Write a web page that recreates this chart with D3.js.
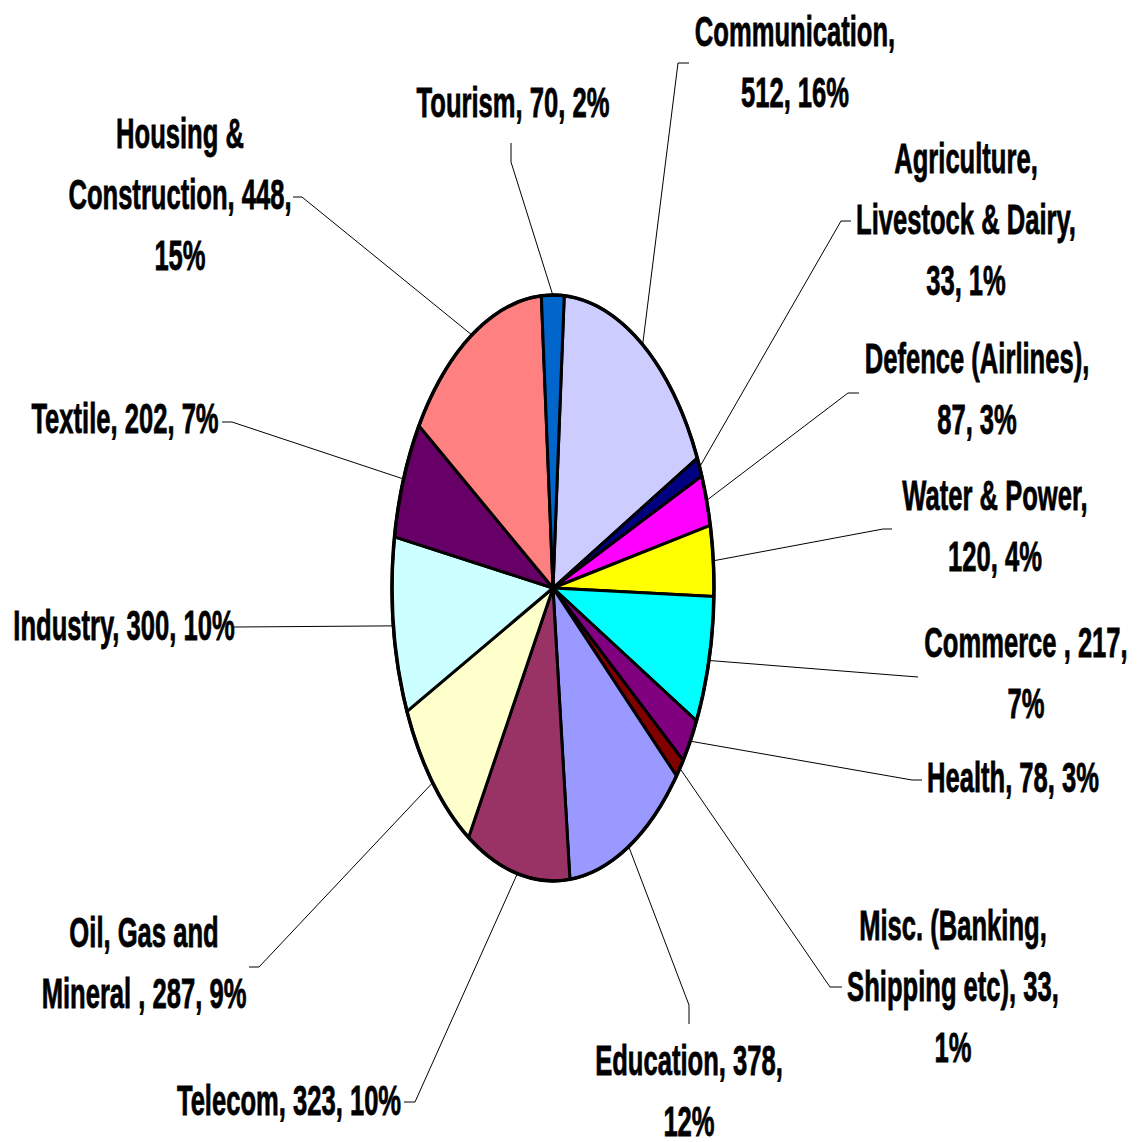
<!DOCTYPE html>
<html>
<head>
<meta charset="utf-8">
<script src="https://cdn.jsdelivr.net/npm/d3@7"></script>
<style>
  body { margin: 0; background: #fff; }
  text { font-family: "Liberation Sans", Arial, sans-serif; font-weight: bold; }
</style>
</head>
<body>
<div id="chart"></div>
<script>
// sectors, clockwise from the top
const categories = [
  "Communication", "Agriculture, Livestock & Dairy", "Defence (Airlines)",
  "Water & Power", "Commerce ", "Health", "Misc. (Banking, Shipping etc)",
  "Education", "Telecom", "Oil, Gas and Mineral ", "Industry", "Textile",
  "Housing & Construction", "Tourism"
];
const values = [512, 33, 87, 120, 217, 78, 33, 378, 323, 287, 300, 202, 448, 70];
// percentages as printed on the chart
const percents = [16, 1, 3, 4, 7, 3, 1, 12, 10, 9, 10, 7, 15, 2];
const colors = [
  "#CCCCFF", "#000080", "#FF00FF", "#FFFF00", "#00FFFF", "#800080", "#800000",
  "#9999FF", "#993366", "#FFFFCC", "#CCFFFF", "#660066", "#FF8080", "#0066CC"
];
// words per line when a label wraps
const wraps = [[1, 2], [1, 3, 2], [2, 2], [3, 2], [3, 1], [4], [2, 3, 1],
  [2, 1], [3], [3, 4], [3], [3], [2, 2, 1], [3]];

// label layout: text centre, first baseline, leader bend and leader end
const labelPos = [
  { x: 795, y: 46, bend: [678, 63], end: [689, 63] },
  { x: 966, y: 173, bend: [841, 221], end: [851, 221] },
  { x: 977, y: 373, bend: [848, 393], end: [859, 393] },
  { x: 995, y: 510, bend: [883, 529], end: [892, 529] },
  { x: 1026, y: 657, bend: [905, 676], end: [918, 677] },
  { x: 1013, y: 792, bend: [912, 780], end: [922, 780] },
  { x: 953, y: 940, bend: [830, 987], end: [842, 987] },
  { x: 689, y: 1075, bend: [689, 1005], end: [689, 1024] },
  { x: 289, y: 1115, bend: [415, 1102], end: [404, 1102] },
  { x: 144, y: 947, bend: [259, 967], end: [249, 967] },
  { x: 124, y: 640, bend: [236, 627], end: [234, 627] },
  { x: 125, y: 433, bend: [232, 422], end: [222, 422] },
  { x: 180, y: 148, bend: [302, 197], end: [293, 197] },
  { x: 513, y: 117, bend: [511, 162], end: [511, 143] }
];

const width = 1144, height = 1142;
const cx = 553, cy = 588, rx = 161, ry = 293;
const rot = 4 * Math.PI / 180;
const fontSize = 43, lineGap = 61, squeeze = 0.595;

const svg = d3.select("#chart").append("svg")
  .attr("width", width)
  .attr("height", height);

const pie = d3.pie().sort(null).value(d => d)
  .startAngle(rot).endAngle(rot + 2 * Math.PI);
const arcs = pie(values);

const arc = d3.arc().innerRadius(0).outerRadius(ry);
const edge = d3.arc().innerRadius(ry).outerRadius(ry);

// leader lines
const leaders = svg.append("g");
arcs.forEach((a, i) => {
  const c = edge.centroid(a);
  const p = labelPos[i];
  const start = [cx + c[0] * rx / ry, cy + c[1]];
  leaders.append("path")
    .attr("d", d3.line()([start, p.bend, p.end]))
    .attr("fill", "none")
    .attr("stroke", "#000")
    .attr("stroke-width", 1);
});

const g = svg.append("g")
  .attr("transform", `translate(${cx},${cy}) scale(${rx / ry},1)`);

g.selectAll("path")
  .data(arcs)
  .join("path")
  .attr("d", arc)
  .attr("fill", (d, i) => colors[i])
  .attr("stroke", "#000")
  .attr("stroke-width", 3)
  .attr("stroke-linejoin", "round")
  .attr("vector-effect", "non-scaling-stroke");

svg.append("ellipse")
  .attr("cx", cx).attr("cy", cy)
  .attr("rx", rx).attr("ry", ry)
  .attr("fill", "none")
  .attr("stroke", "#000")
  .attr("stroke-width", 3.5);

// labels
categories.forEach((name, i) => {
  const words = `${name}, ${values[i]}, ${percents[i]}%`.split(" ");
  const lines = [];
  let k = 0;
  wraps[i].forEach(n => {
    lines.push(words.slice(k, k + n).join(" "));
    k += n;
  });
  const p = labelPos[i];
  const lg = svg.append("g").attr("transform", `translate(${p.x},${p.y})`);
  lines.forEach((t, j) => {
    lg.append("text")
      .attr("transform", `translate(0,${j * lineGap}) scale(${squeeze},1)`)
      .attr("text-anchor", "middle")
      .attr("font-size", fontSize)
      .attr("fill", "#000")
      .attr("stroke", "#000")
      .attr("stroke-width", 0.8)
      .text(t);
  });
});
</script>
</body>
</html>
